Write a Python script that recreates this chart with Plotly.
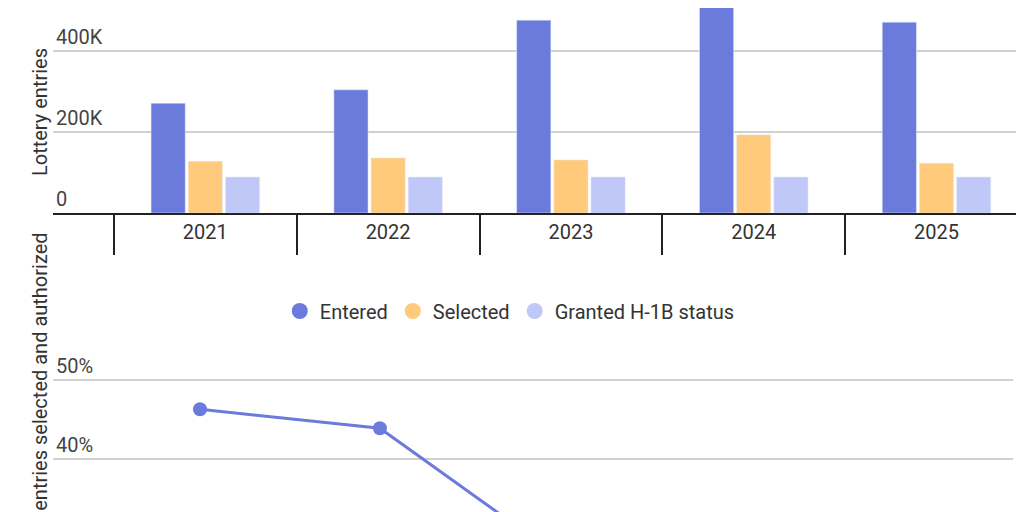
import plotly.graph_objects as go

years = ["2021", "2022", "2023", "2024", "2025"]
entered = [271000, 304000, 476000, 530000, 471000]
selected = [128000, 136000, 131000, 193000, 123000]
granted = [89000, 89000, 89000, 89000, 89000]

line_years = [2021, 2022, 2023, 2024, 2025]
entered_rate = [46.3, 43.9, 27.6, 16.0, 25.0]
selected_rate = [32.0, 29.5, 20.0, 11.0, 18.0]

BLUE = "#6b7bdc"
ORANGE = "#ffca7c"
LAV = "#c0c8f7"
FONT = "Roboto"

fig = go.Figure()

for name, vals, col in [("Entered", entered, BLUE), ("Selected", selected, ORANGE),
                        ("Granted H-1B status", granted, LAV)]:
    fig.add_trace(go.Bar(x=years, y=vals, name=name, marker_color=col,
                         showlegend=False, xaxis="x", yaxis="y"))
    # legend stand-in with circle symbol
    fig.add_trace(go.Scatter(x=[None], y=[None], mode="markers", name=name,
                             marker=dict(color=col, size=30, symbol="circle"),
                             xaxis="x2", yaxis="y2"))

fig.add_trace(go.Scatter(x=line_years, y=entered_rate, mode="lines+markers",
                         line=dict(color=BLUE, width=3), marker=dict(size=14),
                         showlegend=False, xaxis="x2", yaxis="y2"))
fig.add_trace(go.Scatter(x=line_years, y=selected_rate, mode="lines+markers",
                         line=dict(color=ORANGE, width=3), marker=dict(size=14),
                         showlegend=False, xaxis="x2", yaxis="y2"))

fig.update_layout(
    width=1024, height=512,
    margin=dict(l=0, r=0, t=0, b=0, pad=0, autoexpand=False),
    paper_bgcolor="white", plot_bgcolor="white",
    font=dict(family=FONT, size=20, color="#333333"),
    barmode="group", bargap=0.39, bargroupgap=0.08,
    xaxis=dict(domain=[0.044, 0.996], type="category", range=[-0.833, 4.5],
               showline=True, linecolor="#222222", linewidth=2,
               ticks="outside", tickson="boundaries", ticklen=40, tickwidth=1.5,
               tickcolor="#222222", showgrid=False, anchor="y", automargin=False),
    yaxis=dict(domain=[1 - 205 / 512, 1], range=[0, 506000], tickvals=[0, 200000, 400000],
               ticktext=["0", "200K", "400K"], ticklabelposition="inside top",
               showgrid=True, gridcolor="#d0d0d0", gridwidth=1.5, zeroline=False,
               anchor="x", automargin=False),
    xaxis2=dict(domain=[0.044, 0.981], range=[2020.183, 2025.517], visible=False,
                anchor="y2"),
    yaxis2=dict(domain=[0, 1 - 355 / 512], range=[32.28, 52.16], tickvals=[30, 40, 50],
                ticktext=["30%", "40%", "50%"], ticklabelposition="inside top",
                ticklabeloverflow="allow",
                showgrid=True, gridcolor="#d0d0d0", gridwidth=1.5, zeroline=False,
                anchor="x2", automargin=False),
    legend=dict(orientation="h", x=0.49, xanchor="center", y=1 - 303 / 512,
                yanchor="middle", font=dict(size=20), itemsizing="trace"),
    annotations=[
        dict(text="Lottery entries", textangle=-90, xref="paper", yref="paper",
             x=18 / 1024, y=1 - 38 / 512, showarrow=False, font=dict(size=20)),
        dict(text="Share of entries selected and authorized", textangle=-90,
             xref="paper", yref="paper", x=18 / 1024, y=1 - 584 / 512,
             showarrow=False, font=dict(size=20)),
    ],
)

fig.write_html("out.html")
